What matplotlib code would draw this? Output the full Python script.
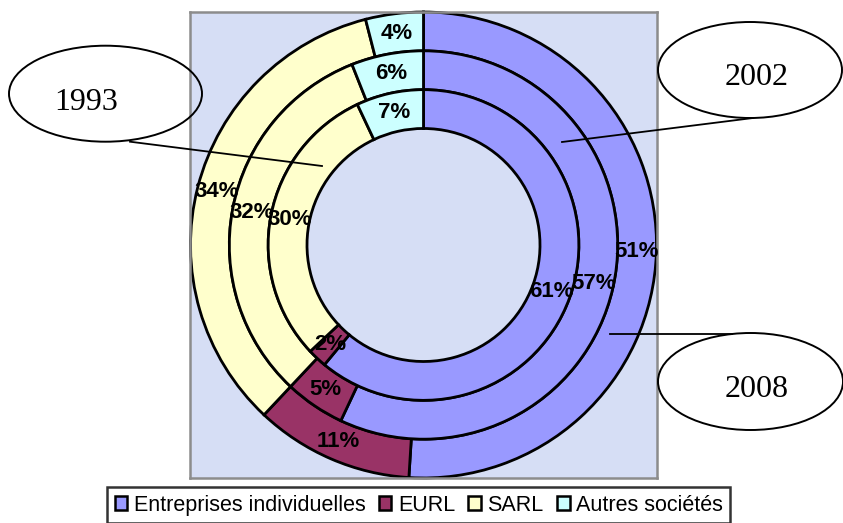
import matplotlib
matplotlib.use('Agg')
import matplotlib.pyplot as plt
from matplotlib.patches import Ellipse, Patch

# donnees
categories = ['Entreprises individuelles', 'EURL', 'SARL', 'Autres sociétés']
years = ['1993', '2002', '2008']
parts_1993 = [61, 2, 30, 7]
parts_2002 = [57, 5, 32, 6]
parts_2008 = [51, 11, 34, 4]
colors = ['#9999FF', '#993366', '#FFFFCC', '#CCFFFF']

W, H = 843, 523
fig = plt.figure(figsize=(W / 100, H / 100), dpi=100)

# zone de tracé (pixels: x 190..657, y 12..478)
ax = fig.add_axes([190 / W, 1 - 478 / H, 467 / W, 466 / H])
ring_w = 1 / 6
rings = [(parts_2008, 1.0), (parts_2002, 1 - ring_w), (parts_1993, 1 - 2 * ring_w)]
for vals, r in rings:
    ax.pie(vals, radius=r, startangle=90, counterclock=False, colors=colors,
           autopct='%.0f%%', pctdistance=(r - ring_w / 2) / r,
           wedgeprops=dict(width=ring_w, edgecolor='black', linewidth=2),
           textprops=dict(fontsize=16, fontweight='bold', family='Liberation Sans',
                          color='black'))
ax.set_aspect('auto')
ax.set_xlim(-467 / 466, 467 / 466)
ax.set_ylim(-1, 1)
ax.set_frame_on(True)
ax.set_facecolor('#D6DEF5')
for s in ax.spines.values():
    s.set_color('#8C8C8C')
    s.set_linewidth(1.8)

# bulles avec les années
ov = fig.add_axes([0, 0, 1, 1], zorder=5)
ov.set_xlim(0, W)
ov.set_ylim(H, 0)
ov.axis('off')
ov.patch.set_visible(False)

bubbles = [((105.5, 93.7), 193, 96, (86, 110), [(130, 141.7), (322, 166)]),
           ((750, 70), 184, 96, (757, 85), [(753, 118), (562, 142)]),
           ((750.5, 381.5), 185, 97, (757, 397), [(610, 333.7), (732, 333.7)])]
for (c, ew, eh, tpos, line), year in zip(bubbles, years):
    ov.add_patch(Ellipse(c, ew, eh, fill=False, edgecolor='black', linewidth=1.4))
    ov.plot([line[0][0], line[1][0]], [line[0][1], line[1][1]], color='black', lw=1.3)
    ov.text(tpos[0], tpos[1], year, fontsize=23, family='Liberation Serif',
            ha='center', va='baseline')

handles = [Patch(facecolor=c, edgecolor='black', linewidth=1.8) for c in colors]
leg = fig.legend(handles, categories, loc='upper left',
                 bbox_to_anchor=(107 / W, 1 - 487 / H), ncol=4, frameon=True,
                 fancybox=False, borderaxespad=0, borderpad=0.35,
                 handlelength=0.6, handleheight=0.6, handletextpad=0.3,
                 columnspacing=0.6, prop=dict(family='Liberation Sans', size=15.5))
leg.get_frame().set_edgecolor('black')
leg.get_frame().set_linewidth(1.8)

fig.savefig('out.png', dpi=100)
